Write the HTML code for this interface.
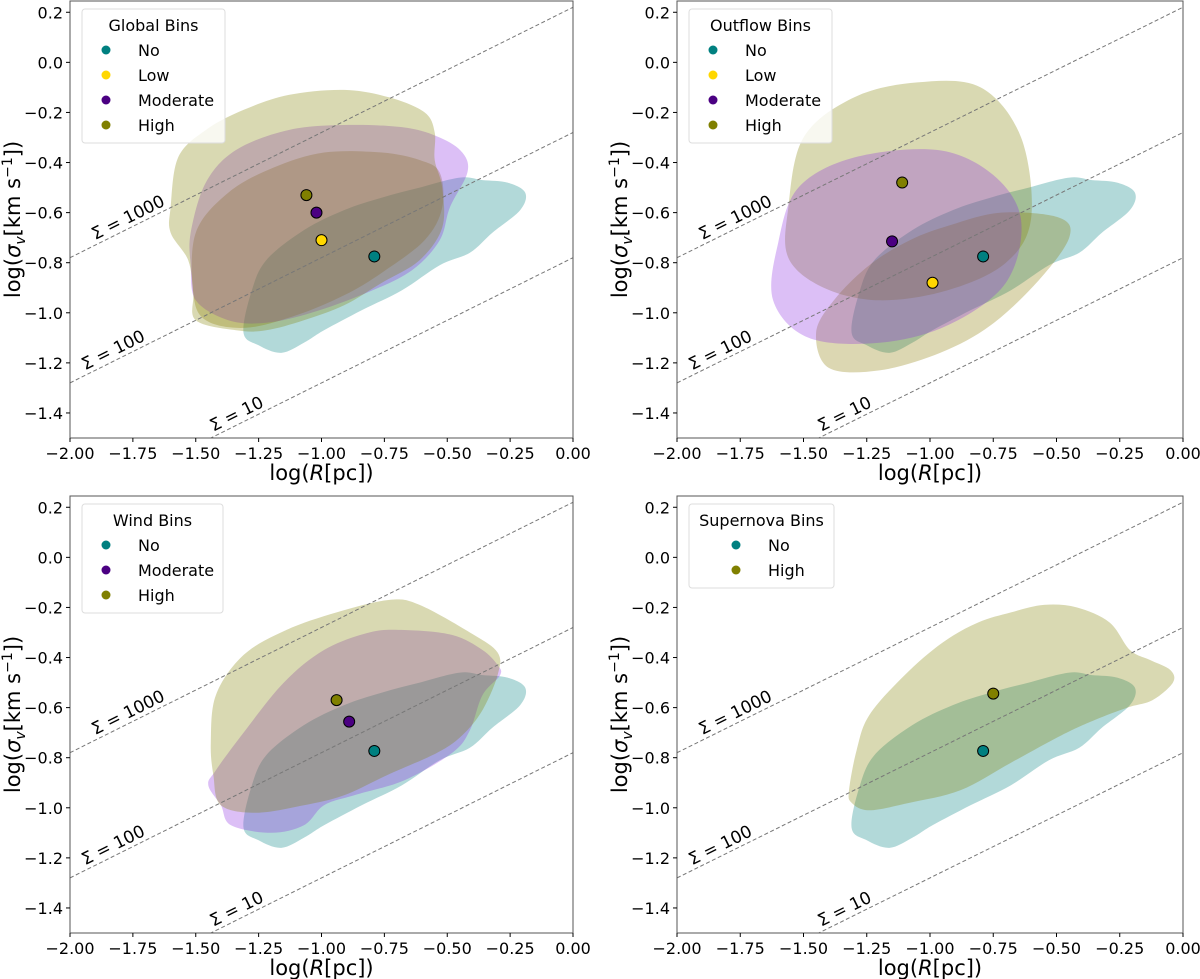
<!DOCTYPE html>
<html><head><meta charset="utf-8">
<style>
html,body{margin:0;padding:0;background:#fff;}
svg{display:block;font-family:"DejaVu Sans","Liberation Sans",sans-serif;}
</style></head>
<body>
<svg id="fig" width="1200" height="979" viewBox="0 0 1200 979" xmlns="http://www.w3.org/2000/svg"></svg>
<script>
// ---- data ----
const xTicks = [-2.00,-1.75,-1.50,-1.25,-1.00,-0.75,-0.50,-0.25,0.00];
const yTicks = [0.2,0.0,-0.2,-0.4,-0.6,-0.8,-1.0,-1.2,-1.4];
const sigmaLabels = ["Σ = 1000","Σ = 100","Σ = 10"];
const sigmaIntercepts = [0.22,-0.28,-0.78];
const sigmaLabelX = [-1.90,-1.94,-1.43];

const noContour = [[-1.31,-1.08],[-1.28,-0.92],[-1.22,-0.79],[-1.07,-0.67],[-0.91,-0.59],[-0.76,-0.54],[-0.61,-0.50],[-0.45,-0.46],[-0.36,-0.47],[-0.26,-0.48],[-0.19,-0.52],[-0.21,-0.59],[-0.32,-0.68],[-0.41,-0.76],[-0.53,-0.81],[-0.68,-0.91],[-0.84,-0.99],[-0.99,-1.07],[-1.07,-1.12],[-1.16,-1.16],[-1.25,-1.13]];

const globalLow = [[-1.50,-0.68],[-1.37,-0.52],[-1.19,-0.42],[-0.99,-0.36],[-0.76,-0.36],[-0.61,-0.39],[-0.53,-0.44],[-0.52,-0.58],[-0.59,-0.71],[-0.76,-0.84],[-0.91,-0.93],[-1.10,-1.01],[-1.30,-1.06],[-1.46,-1.03],[-1.51,-0.92]];
const globalModerate = [[-1.52,-0.68],[-1.46,-0.48],[-1.34,-0.35],[-1.13,-0.27],[-0.91,-0.25],[-0.67,-0.26],[-0.53,-0.30],[-0.44,-0.36],[-0.42,-0.44],[-0.49,-0.58],[-0.53,-0.71],[-0.64,-0.83],[-0.82,-0.92],[-1.04,-1.00],[-1.22,-1.04],[-1.37,-1.03],[-1.50,-0.95],[-1.52,-0.81]];
const globalHigh = [[-1.60,-0.58],[-1.57,-0.38],[-1.46,-0.27],[-1.31,-0.19],[-1.13,-0.13],[-0.91,-0.11],[-0.73,-0.14],[-0.59,-0.20],[-0.55,-0.28],[-0.55,-0.39],[-0.52,-0.50],[-0.52,-0.66],[-0.61,-0.79],[-0.76,-0.88],[-0.91,-0.97],[-1.07,-1.03],[-1.22,-1.07],[-1.34,-1.07],[-1.50,-1.03],[-1.51,-0.92],[-1.53,-0.79],[-1.60,-0.68]];
const globalPoints = [[-0.79,-0.775],[-1.00,-0.71],[-1.02,-0.60],[-1.06,-0.53]];

const outflowLow = [[-1.45,-1.08],[-1.38,-0.95],[-1.24,-0.81],[-1.08,-0.71],[-0.92,-0.65],[-0.72,-0.60],[-0.49,-0.62],[-0.45,-0.70],[-0.57,-0.87],[-0.76,-1.05],[-0.96,-1.16],[-1.20,-1.23],[-1.40,-1.22]];
const outflowModerate = [[-1.60,-0.72],[-1.52,-0.50],[-1.30,-0.38],[-0.97,-0.35],[-0.75,-0.45],[-0.64,-0.63],[-0.70,-0.88],[-0.93,-1.05],[-1.20,-1.12],[-1.48,-1.10],[-1.62,-0.95]];
const outflowHigh = [[-1.56,-0.58],[-1.50,-0.30],[-1.30,-0.14],[-1.05,-0.08],[-0.80,-0.10],[-0.64,-0.30],[-0.60,-0.62],[-0.70,-0.80],[-0.93,-0.91],[-1.20,-0.95],[-1.42,-0.90],[-1.56,-0.78]];
const outflowPoints = [[-0.79,-0.775],[-0.99,-0.88],[-1.15,-0.715],[-1.11,-0.48]];

const windModerate = [[-1.45,-0.91],[-1.42,-0.85],[-1.31,-0.70],[-1.15,-0.50],[-0.99,-0.37],[-0.81,-0.30],[-0.67,-0.29],[-0.48,-0.31],[-0.36,-0.37],[-0.30,-0.43],[-0.29,-0.47],[-0.36,-0.55],[-0.41,-0.69],[-0.48,-0.78],[-0.67,-0.89],[-0.87,-0.95],[-0.99,-0.99],[-1.07,-1.07],[-1.20,-1.10],[-1.36,-1.07],[-1.40,-0.99]];
const windHigh = [[-1.44,-0.74],[-1.42,-0.55],[-1.31,-0.39],[-1.14,-0.29],[-0.94,-0.22],[-0.73,-0.17],[-0.61,-0.19],[-0.41,-0.30],[-0.30,-0.38],[-0.30,-0.47],[-0.36,-0.61],[-0.44,-0.71],[-0.54,-0.78],[-0.74,-0.87],[-0.91,-0.95],[-1.07,-0.99],[-1.26,-1.02],[-1.40,-0.99],[-1.43,-0.87]];
const windPoints = [[-0.79,-0.773],[-0.89,-0.656],[-0.94,-0.57]];

const snHigh = [[-1.32,-0.93],[-1.29,-0.77],[-1.24,-0.63],[-1.10,-0.47],[-0.95,-0.34],[-0.81,-0.26],[-0.68,-0.22],[-0.55,-0.19],[-0.42,-0.20],[-0.29,-0.26],[-0.21,-0.37],[-0.13,-0.41],[-0.05,-0.45],[-0.04,-0.50],[-0.12,-0.57],[-0.22,-0.60],[-0.35,-0.65],[-0.48,-0.71],[-0.68,-0.82],[-0.88,-0.93],[-1.08,-0.98],[-1.24,-1.01],[-1.31,-0.98]];
const snPoints = [[-0.79,-0.773],[-0.75,-0.544]];

const COLORS = {No:"#008080",Low:"#FFD700",Moderate:"#4B0082",High:"#808000"};
const FILLS = {No:"#008080",Low:"#8B7A00",Moderate:"#8A2BE2",High:"#808000"};

const panels = [
  {name:"global",title:"Global Bins",x0:70,x1:573,y0:1,y1:438,labels:["No","Low","Moderate","High"],
   blobs:[["No",noContour],["Low",globalLow],["Moderate",globalModerate],["High",globalHigh]],points:globalPoints,legendW:143},
  {name:"outflow",title:"Outflow Bins",x0:677,x1:1183,y0:1,y1:438,labels:["No","Low","Moderate","High"],
   blobs:[["No",noContour],["Low",outflowLow],["High",outflowHigh],["Moderate",outflowModerate]],points:outflowPoints,legendW:143},
  {name:"wind",title:"Wind Bins",x0:70,x1:573,y0:496,y1:933,labels:["No","Moderate","High"],
   blobs:[["No",noContour],["Moderate",windModerate],["High",windHigh]],points:windPoints,legendW:141},
  {name:"supernova",title:"Supernova Bins",x0:677,x1:1183,y0:496,y1:933,labels:["No","High"],
   blobs:[["No",noContour],["High",snHigh]],points:snPoints,legendW:145}
];

const NS="http://www.w3.org/2000/svg";
const svg=document.getElementById('fig');
function mk(tag,attrs,parent){const e=document.createElementNS(NS,tag);for(const k in attrs)e.setAttribute(k,attrs[k]);(parent||svg).appendChild(e);return e;}
function smoothClosed(P){
  const n=P.length;let d='M'+P[0][0].toFixed(1)+','+P[0][1].toFixed(1);
  for(let i=0;i<n;i++){
    const p0=P[(i-1+n)%n],p1=P[i],p2=P[(i+1)%n],p3=P[(i+2)%n];
    const c1=[p1[0]+(p2[0]-p0[0])/6,p1[1]+(p2[1]-p0[1])/6];
    const c2=[p2[0]-(p3[0]-p1[0])/6,p2[1]-(p3[1]-p1[1])/6];
    d+='C'+c1[0].toFixed(1)+','+c1[1].toFixed(1)+' '+c2[0].toFixed(1)+','+c2[1].toFixed(1)+' '+p2[0].toFixed(1)+','+p2[1].toFixed(1);
  }
  return d+'Z';
}

const XMIN=-2,XMAX=0,YMIN=-1.5,YMAX=0.245;
panels.forEach((p,pi)=>{
  const sx=v=>p.x0+(v-XMIN)/(XMAX-XMIN)*(p.x1-p.x0);
  const sy=v=>p.y1-(v-YMIN)/(YMAX-YMIN)*(p.y1-p.y0);
  const g=mk('g',{});
  
  
  const cid='clip'+pi;
  const cp=mk('clipPath',{id:cid},g);
  mk('rect',{x:p.x0,y:p.y0,width:p.x1-p.x0,height:p.y1-p.y0},cp);
  const plot=mk('g',{'clip-path':'url(#'+cid+')'},g);
  p.blobs.forEach(([lab,pts])=>{
    const d=smoothClosed(pts.map(q=>[sx(q[0]),sy(q[1])]));
    const path=mk('path',{d:d,fill:FILLS[lab],'fill-opacity':0.3,stroke:'none'},plot);
    
    
  });
  sigmaIntercepts.forEach((c,i)=>{
    const l=mk('line',{x1:sx(-2),y1:sy(c-1),x2:sx(0),y2:sy(c),stroke:'#777',"stroke-width":1,"stroke-dasharray":"4,2.5"},plot);
    
    
    const lx=sigmaLabelX[i], ly=c+0.5*lx+0.02;
    const ang=-Math.atan(0.5*(p.y1-p.y0)/(YMAX-YMIN)/((p.x1-p.x0)/(XMAX-XMIN)))*180/Math.PI;
    const t=mk('text',{x:sx(lx),y:sy(ly),'font-size':17,fill:'#000',transform:`rotate(${ang} ${sx(lx)} ${sy(ly)})`},plot);
    t.textContent=sigmaLabels[i];
    
    
  });
  p.points.forEach((q,i)=>{
    const lab=p.labels[i];
    const c=mk('circle',{cx:sx(q[0]),cy:sy(q[1]),r:5.5,fill:COLORS[lab],stroke:'#000','stroke-width':1},plot);
    
    
  });
  const fr=mk('rect',{x:p.x0,y:p.y0,width:p.x1-p.x0,height:p.y1-p.y0,fill:'none',stroke:'#555','stroke-width':1},g);
  
  
  xTicks.forEach(v=>{
    mk('line',{x1:sx(v),y1:p.y1,x2:sx(v),y2:p.y1+4,stroke:'#000'},g);
    const t=mk('text',{x:sx(v),y:p.y1+21,'font-size':16,'text-anchor':'middle'},g);
    t.textContent=(v<0?'\u2212':'')+Math.abs(v).toFixed(2);
    
    
  });
  yTicks.forEach(v=>{
    mk('line',{x1:p.x0-4,y1:sy(v),x2:p.x0,y2:sy(v),stroke:'#000'},g);
    const t=mk('text',{x:p.x0-7,y:sy(v)+6,'font-size':16,'text-anchor':'end'},g);
    t.textContent=(v<0?'\u2212':'')+Math.abs(v).toFixed(1);
    
    
  });
  const xl=mk('text',{x:(p.x0+p.x1)/2,y:p.y1+42,'font-size':21,'text-anchor':'middle'},g);
  xl.innerHTML='log(<tspan font-style="italic">R</tspan>[pc])';
  
  
  const ycx=p.x0-50, ycy=(p.y0+p.y1)/2;
  const yl=mk('text',{x:ycx,y:ycy,'font-size':21,'text-anchor':'middle',transform:`rotate(-90 ${ycx} ${ycy})`},g);
  yl.innerHTML='log(<tspan font-style="italic">σ</tspan><tspan font-style="italic" font-size="14" dy="5">v</tspan><tspan dy="-5">[km s</tspan><tspan font-size="14" dy="-8">−1</tspan><tspan dy="8">])</tspan>';
  
  
  const lg=mk('g',{},g);
  
  
  const lx=p.x0+12, ly=p.y0+8;
  const lh=34+p.labels.length*25;
  mk('rect',{x:lx,y:ly,width:p.legendW,height:lh,rx:3,fill:'#fff','fill-opacity':0.8,stroke:'#ddd'},lg);
  const tt=mk('text',{x:lx+p.legendW/2,y:ly+22,'font-size':16,'text-anchor':'middle'},lg);
  tt.textContent=p.title;
  
  
  p.labels.forEach((lab,i)=>{
    const yy=ly+47+i*25;
    const mx = p.name==='supernova'? lx+47 : lx+24;
    mk('circle',{cx:mx,cy:yy-6,r:4.5,fill:COLORS[lab]},lg);
    const et=mk('text',{x:mx+32,y:yy,'font-size':16},lg);
    et.textContent=lab;
    
    
  });
});
</script>
</body></html>
